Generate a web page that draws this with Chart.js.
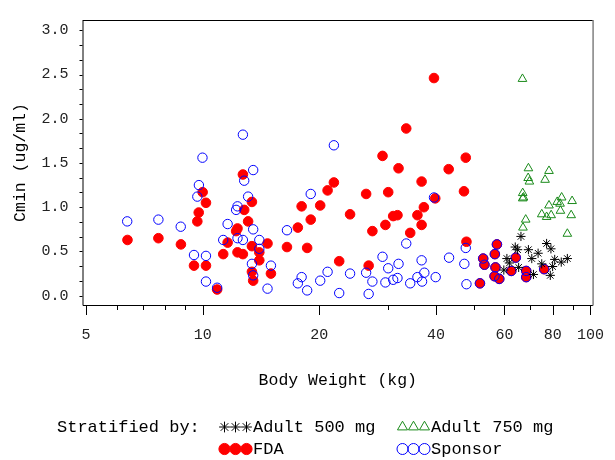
<!DOCTYPE html>
<html>
<head>
<meta charset="utf-8">
<script src="https://cdn.jsdelivr.net/npm/chart.js@4/dist/chart.umd.min.js"></script>
<style>
  html, body { margin: 0; padding: 0; background: #fff; }
  canvas { display: block; }
</style>
</head>
<body>
<canvas id="chart" width="615" height="460"></canvas>
<script>
// tick positions and labels
const xTickValues = [5, 6, 7, 8, 9, 10, 20, 30, 40, 50, 60, 70, 80, 90, 100];
const xTickLabels = [5, 10, 20, 40, 60, 80, 100];
const yTickLabels = [0, 0.5, 1.0, 1.5, 2.0, 2.5, 3.0];

// [body weight (kg), Cmin (ug/ml)]
const adult500 = [
  [66.2, 0.67], [64.0, 0.55], [64.9, 0.52], [69.2, 0.52], [73.3, 0.48], [77.1, 0.59],
  [79.1, 0.53], [70.6, 0.42], [60.9, 0.42], [61.8, 0.37], [80.9, 0.41], [84.1, 0.38],
  [87.2, 0.42], [74.9, 0.36], [79.9, 0.33], [59.8, 0.29], [65.3, 0.32], [71.3, 0.24],
  [78.8, 0.23]
];
const adult750 = [
  [66.8, 2.45], [69.2, 1.44], [78.2, 1.41], [69.1, 1.33], [69.6, 1.29], [76.4, 1.31],
  [66.9, 1.16], [67.2, 1.11], [66.9, 1.10], [84.3, 1.11], [82.1, 1.06], [83.5, 1.04],
  [89.7, 1.07], [78.2, 1.02], [74.9, 0.92], [77.1, 0.89], [79.2, 0.91], [83.7, 0.96],
  [89.2, 0.91], [68.1, 0.86], [67.0, 0.77], [87.2, 0.70]
];
const fda = [
  [6.40, 0.63], [7.69, 0.65], [8.79, 0.58], [9.50, 0.34], [9.69, 0.84], [9.77, 0.94],
  [10.0, 1.17], [10.2, 1.05], [10.2, 0.34], [10.9, 0.07], [11.3, 0.47], [11.6, 0.60],
  [12.3, 0.76], [12.2, 0.73], [12.3, 0.49], [12.7, 0.47], [12.7, 1.37], [12.8, 0.97],
  [13.4, 1.06], [13.1, 0.84], [13.4, 0.56], [14.7, 0.59], [14.0, 0.49], [14.0, 0.40],
  [13.4, 0.27], [13.5, 0.17], [15.0, 0.25], [16.5, 0.55], [17.6, 0.77], [18.0, 1.01],
  [18.6, 0.54], [19.0, 0.86], [20.1, 1.02], [21.0, 1.19], [21.8, 1.28], [22.5, 0.39],
  [24.0, 0.92], [26.4, 1.15], [26.8, 0.34], [27.4, 0.73], [29.1, 1.58], [29.6, 0.80],
  [30.1, 1.17], [31.0, 0.90], [31.8, 0.91], [32.0, 1.44], [33.5, 1.89], [34.3, 0.71],
  [35.8, 0.91], [36.7, 1.29], [36.7, 0.80], [37.2, 1.00], [39.5, 2.46], [39.8, 1.10],
  [43.1, 1.43], [47.2, 1.18], [47.7, 1.56], [47.9, 0.61], [51.9, 0.14], [52.9, 0.42],
  [53.3, 0.35], [56.7, 0.47], [57.4, 0.58], [56.9, 0.32], [56.6, 0.22], [58.2, 0.19],
  [62.5, 0.28], [64.2, 0.43], [68.3, 0.28], [68.3, 0.21], [76.0, 0.30]
];
const sponsor = [
  [6.39, 0.84], [7.69, 0.86], [8.78, 0.78], [9.50, 0.46], [9.69, 1.12], [9.78, 1.25],
  [9.99, 1.56], [10.2, 0.45], [10.2, 0.16], [10.9, 0.09], [11.3, 0.63], [11.6, 0.81],
  [12.2, 0.97], [12.3, 1.01], [12.3, 0.65], [12.7, 0.63], [12.7, 1.82], [12.8, 1.30],
  [13.5, 1.42], [13.1, 1.12], [13.5, 0.75], [14.0, 0.63], [14.0, 0.53], [13.4, 0.36],
  [13.5, 0.23], [15.0, 0.34], [14.7, 0.08], [16.5, 0.74], [18.0, 0.21], [17.6, 0.14],
  [18.6, 0.06], [19.0, 1.15], [20.1, 0.17], [21.0, 0.27], [21.8, 1.70], [22.5, 0.03],
  [24.0, 0.25], [26.4, 0.26], [26.8, 0.02], [27.4, 0.16], [29.1, 0.44], [29.6, 0.15],
  [30.1, 0.31], [31.0, 0.18], [31.8, 0.20], [32.0, 0.36], [33.5, 0.59], [34.3, 0.14],
  [35.8, 0.21], [36.7, 0.40], [36.8, 0.16], [37.3, 0.26], [39.5, 1.11], [39.9, 0.21],
  [43.2, 0.43], [47.3, 0.36], [47.7, 0.54], [47.9, 0.13], [51.9, 0.14], [52.9, 0.42],
  [53.3, 0.35], [56.7, 0.47], [57.4, 0.58], [56.9, 0.32], [56.6, 0.22], [58.2, 0.19],
  [62.5, 0.28], [64.2, 0.43], [68.3, 0.28], [68.3, 0.21], [76.0, 0.30]
];

const MONO = '"Liberation Mono", "DejaVu Sans Mono", monospace';
const toPoints = arr => arr.map(p => ({x: p[0], y: p[1]}));

const series = [
  {label: 'Adult 500 mg', data: adult500, style: 'star', color: '#000000', fill: 'rgba(0,0,0,0)', r: 4.6},
  {label: 'Adult 750 mg', data: adult750, style: 'triangle', color: '#1a8a1a', fill: 'rgba(0,0,0,0)', r: 5},
  {label: 'FDA', data: fda, style: 'circle', color: '#ff0000', fill: '#ff0000', r: 4.8},
  {label: 'Sponsor', data: sponsor, style: 'circle', color: '#0000ff', fill: 'rgba(0,0,0,0)', r: 4.7}
];
// draw order: lower "order" ends up on top
const drawOrder = {'Sponsor': 1, 'FDA': 2, 'Adult 500 mg': 0, 'Adult 750 mg': 0};

// frame, tick marks, axis titles and the legend block
const decorations = {
  id: 'decorations',
  afterDraw(chart) {
    const {ctx, chartArea: a, scales: {x, y}} = chart;
    ctx.save();
    ctx.lineWidth = 1;
    ctx.strokeStyle = '#000';
    ctx.beginPath();
    ctx.moveTo(a.left + 0.5, a.top + 0.5);
    ctx.lineTo(a.right, a.top + 0.5);
    ctx.moveTo(a.left + 0.5, a.top);
    ctx.lineTo(a.left + 0.5, a.bottom + 0.5);
    ctx.lineTo(a.right, a.bottom + 0.5);
    ctx.stroke();
    ctx.strokeStyle = '#808080';
    ctx.lineWidth = 1.5;
    ctx.beginPath();
    ctx.moveTo(a.right, a.top);
    ctx.lineTo(a.right, a.bottom + 0.5);
    ctx.stroke();

    // x ticks: long for labelled values, short otherwise
    ctx.strokeStyle = '#000';
    ctx.lineWidth = 1;
    ctx.beginPath();
    x.ticks.forEach(t => {
      const px = Math.round(x.getPixelForValue(t.value)) + 0.5;
      const len = xTickLabels.includes(t.value) ? 10 : 5;
      ctx.moveTo(px, a.bottom);
      ctx.lineTo(px, a.bottom + len);
    });
    y.ticks.forEach(t => {
      const py = Math.round(y.getPixelForValue(t.value)) + 0.5;
      ctx.moveTo(a.left, py);
      ctx.lineTo(a.left - 3, py);
    });
    ctx.stroke();

    // axis titles
    ctx.fillStyle = '#000';
    ctx.font = '16.5px ' + MONO;
    ctx.textAlign = 'center';
    ctx.textBaseline = 'middle';
    ctx.fillText('Body Weight (kg)', (a.left + a.right) / 2, 381);
    ctx.save();
    ctx.translate(20.5, (a.top + a.bottom) / 2);
    ctx.rotate(-Math.PI / 2);
    ctx.fillText('Cmin (ug/ml)', 0, 0);
    ctx.restore();

    // legend
    ctx.font = '17px ' + MONO;
    ctx.textAlign = 'left';
    ctx.fillText('Stratified by:', 57, 427);
    const slots = [[224.5, 427], [402.5, 427], [224.5, 449], [402.5, 449]];
    series.forEach((s, i) => {
      const [cx, cy] = slots[i];
      ctx.strokeStyle = s.color;
      ctx.fillStyle = s.fill;
      ctx.lineWidth = 1;
      for (let k = 0; k < 3; k++) {
        Chart.helpers.drawPoint(ctx, {pointStyle: s.style, radius: s.r + 0.8, rotation: 0, borderWidth: 1}, cx + k * 11, cy);
      }
      ctx.fillStyle = '#000';
      ctx.fillText(s.label, cx + 28.5, cy);
    });
    ctx.restore();
  }
};

new Chart(document.getElementById('chart'), {
  type: 'scatter',
  data: {
    datasets: series.map(s => ({
      label: s.label,
      data: toPoints(s.data),
      pointStyle: s.style,
      pointRadius: s.r,
      pointHoverRadius: s.r,
      borderColor: s.color,
      backgroundColor: s.fill,
      borderWidth: 1,
      order: drawOrder[s.label]
    }))
  },
  options: {
    responsive: false,
    animation: false,
    events: [],
    layout: {padding: {left: 0, right: 16, top: 8, bottom: 0}},
    plugins: {legend: {display: false}, tooltip: {enabled: false}},
    scales: {
      x: {
        type: 'logarithmic',
        min: 4.9,
        max: 101.6,
        afterFit(scale) { scale.height = 155; },
        afterBuildTicks(scale) { scale.ticks = xTickValues.map(v => ({value: v})); },
        ticks: {
          autoSkip: false,
          maxRotation: 0,
          padding: 11,
          color: '#222',
          font: {family: MONO, size: 15},
          callback: v => xTickLabels.includes(v) ? String(v) : ''
        },
        grid: {display: false, drawTicks: true, tickLength: 10},
        border: {display: false}
      },
      y: {
        min: -0.105,
        max: 3.116,
        afterFit(scale) { scale.width = 82.5; },
        afterBuildTicks(scale) {
          const t = [];
          for (let k = 0; k <= 18; k++) t.push({value: k / 6});
          scale.ticks = t;
        },
        ticks: {
          autoSkip: false,
          padding: 11,
          color: '#222',
          font: {family: MONO, size: 15},
          callback: v => {
            const hit = yTickLabels.find(l => Math.abs(l - v) < 1e-6);
            return hit === undefined ? '' : hit.toFixed(1);
          }
        },
        grid: {display: false, drawTicks: true, tickLength: 3},
        border: {display: false}
      }
    }
  },
  plugins: [decorations]
});
</script>
</body>
</html>
